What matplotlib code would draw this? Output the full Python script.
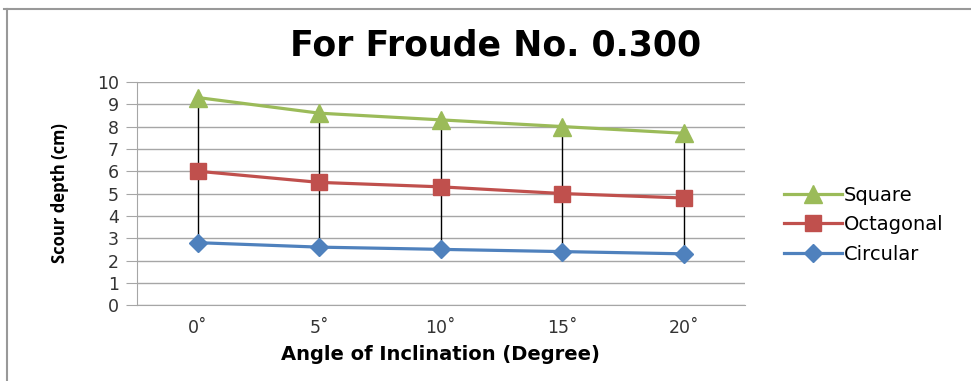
import numpy as np
import matplotlib.pyplot as plt
from matplotlib.lines import Line2D

angles = ['0˚', '5˚', '10˚', '15˚', '20˚']
square = [9.3, 8.6, 8.3, 8.0, 7.7]
octagonal = [6.0, 5.5, 5.3, 5.0, 4.8]
circular = [2.8, 2.6, 2.5, 2.4, 2.3]

fig = plt.figure(figsize=(9.71, 3.81), dpi=100)
ax = fig.add_axes([0.141, 0.199, 0.626, 0.586])

x = np.arange(len(angles))

# hi-lo lines
ax.vlines(x, circular, square, colors='black', lw=1.0, zorder=2)

ax.plot(x, square, '-^', color='#9BBB59', lw=2.3, ms=13, label='Square', zorder=3)
ax.plot(x, octagonal, '-s', color='#C0504D', lw=2.3, ms=12, label='Octagonal', zorder=3)
ax.plot(x, circular, '-D', color='#4F81BD', lw=2.3, ms=9, label='Circular', zorder=3)

ax.set_xlim(-0.5, 4.5)
ax.set_ylim(0, 10)
ax.set_yticks(range(0, 11))
ax.set_xticks(x)
ax.set_xticklabels(angles)
ax.grid(axis='y', color='#a6a6a6', lw=1.0)
ax.set_axisbelow(True)
for s in ['top', 'right']:
    ax.spines[s].set_visible(False)
ax.spines['left'].set_color('#a6a6a6')
ax.spines['bottom'].set_color('#a6a6a6')
ax.tick_params(axis='y', length=8, color='#a6a6a6', labelsize=12.5, pad=5, labelcolor='#333333')
ax.tick_params(axis='x', length=0, labelsize=12.5, pad=10, labelcolor='#333333')
for lab in ax.get_xticklabels() + ax.get_yticklabels():
    lab.set_family('DejaVu Sans')

ax.set_ylabel('Scour depth (cm)', fontsize=12, fontweight='bold', family='Open Sans', labelpad=20)
ax.set_xlabel('Angle of Inclination (Degree)', fontsize=14, fontweight='bold', family='DejaVu Sans', labelpad=6)
fig.text(0.51, 0.88, 'For Froude No. 0.300', ha='center', va='center', fontsize=25,
         fontweight='bold', family='DejaVu Sans')

leg = ax.legend(loc='center left', bbox_to_anchor=(1.035, 0.36), frameon=False,
                prop={'family': 'DejaVu Sans', 'size': 14},
                handlelength=3.0, handletextpad=0.1, labelspacing=0.55)

# chart border (top and left)
fig.add_artist(Line2D([0.004, 1.0], [0.977, 0.977], color='#999999', lw=1.5))
fig.add_artist(Line2D([0.007, 0.007], [0.0, 0.977], color='#999999', lw=1.5))

fig.savefig('out.png', dpi=100)
